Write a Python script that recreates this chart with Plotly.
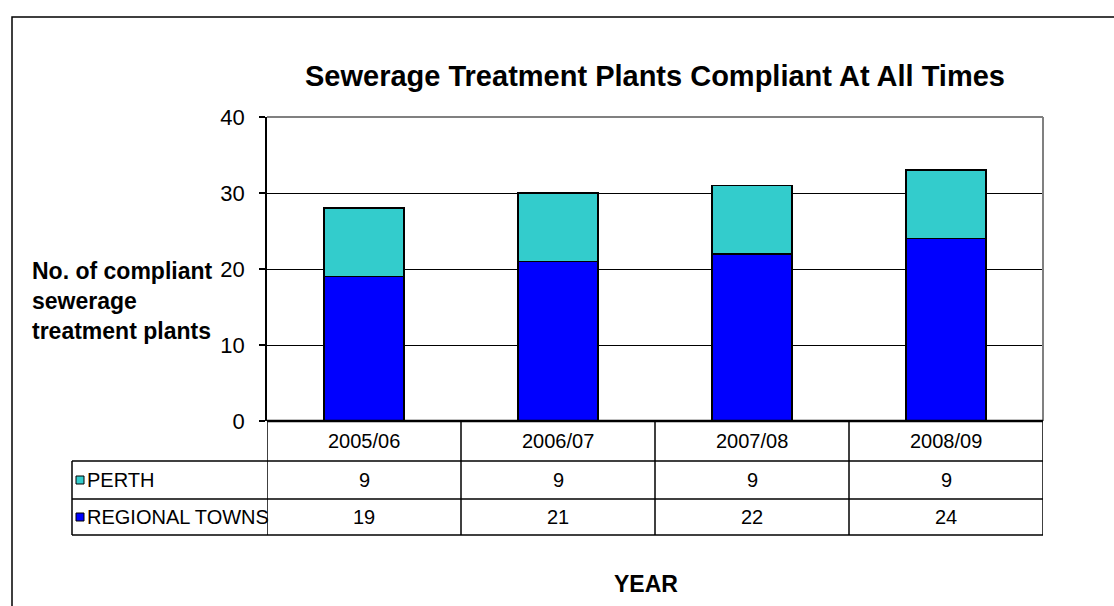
import plotly.graph_objects as go

# Data
years = ["2005/06", "2006/07", "2007/08", "2008/09"]
regional_towns = [19, 21, 22, 24]
perth = [9, 9, 9, 9]
series_names = ["PERTH", "REGIONAL TOWNS"]
y_ticks = [0, 10, 20, 30, 40]

BLUE = "#0000FF"
CYAN = "#33CCCC"
FONT = "Liberation Sans, Arial, sans-serif"

W, H = 1114, 606
L, R, T, B = 267, 1043, 117, 421  # plot area in pixels


def px(xp):
    return (xp - L) / (R - L)


def py(yp):
    return (B - yp) / (B - T)


fig = go.Figure()
fig.add_trace(go.Bar(x=list(range(len(years))), y=regional_towns, name=series_names[1],
                     marker=dict(color=BLUE, line=dict(color="black", width=1.5)), width=0.41))
fig.add_trace(go.Bar(x=list(range(len(years))), y=perth, name=series_names[0],
                     marker=dict(color=CYAN, line=dict(color="black", width=1.5)), width=0.41))

shapes = []
annotations = []

# outer chart border
shapes.append(dict(type="rect", xref="paper", yref="paper", x0=px(12), x1=px(1125),
                   y0=py(625), y1=py(17), line=dict(color="black", width=1.5), layer="below"))

# data table below the axis
row_lines = [461, 499, 535]
table_left = 72
for yl in row_lines:
    shapes.append(dict(type="line", xref="paper", yref="paper", x0=px(table_left), x1=1,
                       y0=py(yl), y1=py(yl), line=dict(color="black", width=1.5)))
shapes.append(dict(type="line", xref="paper", yref="paper", x0=px(table_left), x1=px(table_left),
                   y0=py(461), y1=py(535), line=dict(color="black", width=1.5)))
for i in range(len(years) + 1):
    shapes.append(dict(type="line", xref="x", yref="paper", x0=i - 0.5, x1=i - 0.5,
                       y0=py(B), y1=py(535), line=dict(color="black", width=1.5)))

cell_font = dict(size=20, color="black", family=FONT)
row_centers = {"year": 441, "PERTH": 480, "REGIONAL TOWNS": 517}
for i, yr in enumerate(years):
    for key, txt in [("year", yr), ("PERTH", str(perth[i])), ("REGIONAL TOWNS", str(regional_towns[i]))]:
        annotations.append(dict(x=i, y=py(row_centers[key]), xref="x", yref="paper", text=txt,
                                xanchor="center", yanchor="middle",
                                showarrow=False, font=cell_font))

# row labels with legend keys
for name, color in [("PERTH", CYAN), ("REGIONAL TOWNS", BLUE)]:
    yc = row_centers[name]
    shapes.append(dict(type="rect", xref="paper", yref="paper", x0=px(table_left + 4), x1=px(table_left + 12),
                       y0=py(yc + 4), y1=py(yc - 4), fillcolor=color, line=dict(color="black", width=1)))
    annotations.append(dict(x=px(table_left + 13), y=py(yc), xref="paper", yref="paper", text=name,
                            xanchor="left", yanchor="middle", showarrow=False, font=cell_font))

# title and axis titles
annotations.append(dict(x=px(655), y=py(76), xref="paper", yref="paper",
                        xanchor="center", yanchor="middle",
                        text="<b>Sewerage Treatment Plants Compliant At All Times</b>",
                        showarrow=False, font=dict(size=29, color="black", family=FONT)))
annotations.append(dict(x=px(30), y=py(301), xref="paper", yref="paper",
                        xanchor="left", yanchor="middle", align="left",
                        text="<b>No. of compliant<br>sewerage<br>treatment plants</b>",
                        showarrow=False, font=dict(size=23, color="black", family=FONT)))
annotations.append(dict(x=px(646), y=py(584), xref="paper", yref="paper",
                        xanchor="center", yanchor="middle",
                        text="<b>YEAR</b>",
                        showarrow=False, font=dict(size=23, color="black", family=FONT)))

fig.update_layout(
    width=W, height=H,
    margin=dict(l=L, r=W - R, t=T, b=H - B),
    barmode="stack",
    showlegend=False,
    plot_bgcolor="white",
    paper_bgcolor="white",
    shapes=shapes,
    annotations=annotations,
    xaxis=dict(range=[-0.5, len(years) - 0.5], showticklabels=False, showgrid=False,
               zeroline=False, showline=False, ticks="", fixedrange=True),
    yaxis=dict(range=[0, 40], tickvals=y_ticks, ticks="outside", ticklen=6, tickcolor="black",
               tickwidth=1.5, showline=True, linecolor="black", linewidth=1.5,
               showgrid=True, gridcolor="black", gridwidth=1.2, zeroline=False,
               tickfont=dict(size=22, color="black", family=FONT), ticklabelstandoff=10),
)

# gray plot border on top and right
fig.add_shape(type="line", xref="paper", yref="paper", x0=0, x1=1, y0=1, y1=1,
              line=dict(color="#808080", width=2))
fig.add_shape(type="line", xref="paper", yref="paper", x0=1, x1=1, y0=0, y1=1,
              line=dict(color="#808080", width=2))
# axis base line
fig.add_shape(type="line", xref="paper", yref="paper", x0=0, x1=1, y0=0, y1=0,
              line=dict(color="black", width=2.5))

fig.write_html("out.html")
